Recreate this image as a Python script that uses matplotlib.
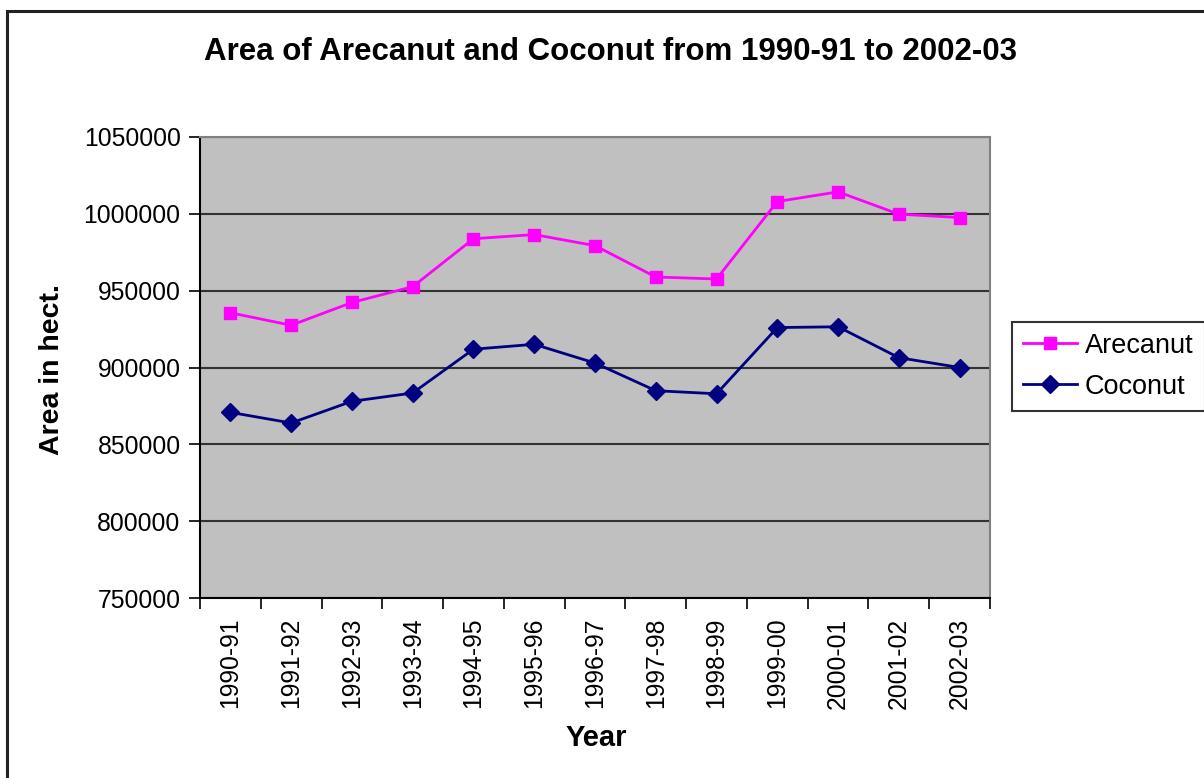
import matplotlib.pyplot as plt
import numpy as np
from matplotlib.patches import Rectangle
from matplotlib.ticker import FormatStrFormatter

plt.rcParams['font.family'] = ['Liberation Sans', 'DejaVu Sans']

# data
years = ['1990-91', '1991-92', '1992-93', '1993-94', '1994-95', '1995-96', '1996-97',
         '1997-98', '1998-99', '1999-00', '2000-01', '2001-02', '2002-03']
arecanut = [935600, 927500, 942300, 952600, 983800, 986500, 979300,
            958900, 957600, 1008000, 1014300, 999800, 997600]
coconut = [870800, 863900, 878000, 883400, 911900, 915100, 902900,
           884900, 882900, 926000, 926500, 906400, 900000]

fig = plt.figure(figsize=(12.04, 7.78), dpi=100)
fig.patch.set_facecolor('white')
# outer chart border
fig.add_artist(Rectangle((7 / 1204, -0.1), 1.2, 1 - 11 / 778 + 0.1, transform=fig.transFigure,
                         fill=False, edgecolor='#222222', linewidth=2.2))

ax = fig.add_axes([200 / 1204, 1 - 598 / 778, 790 / 1204, 461 / 778])
ax.set_facecolor('#c0c0c0')

x = np.arange(len(years))
ax.plot(x, arecanut, color='#ff00ff', marker='s', markersize=9, linewidth=2, label='Arecanut')
ax.plot(x, coconut, color='#000080', marker='D', markersize=9, linewidth=2, label='Coconut')

ax.set_xlim(-0.5, len(years) - 0.5)
ax.set_ylim(750000, 1050000)
ax.set_yticks(np.arange(750000, 1050001, 50000))
ax.yaxis.set_major_formatter(FormatStrFormatter('%d'))
ax.yaxis.grid(True, color='#333333', linewidth=1.5)
ax.set_axisbelow(True)

# ticks between categories, labels centred
ax.set_xticks(np.arange(-0.5, len(years), 1))
ax.set_xticklabels([])
ax.set_xticks(x, minor=True)
ax.set_xticklabels(years, minor=True, rotation=90, fontsize=17.8)
ax.tick_params(axis='x', which='minor', length=0, pad=14)
ax.tick_params(axis='x', which='major', length=8, width=1.2, direction='out')
ax.tick_params(axis='y', labelsize=17.8, length=8, width=1.2, pad=6)

for s in ['top', 'right']:
    ax.spines[s].set_color('#808080')
    ax.spines[s].set_linewidth(1.5)
for s in ['left', 'bottom']:
    ax.spines[s].set_color('black')
    ax.spines[s].set_linewidth(1.5)

fig.text(611 / 1204, 1 - 52 / 778, 'Area of Arecanut and Coconut from 1990-91 to 2002-03',
         ha='center', va='center', fontsize=22.5, fontweight='bold')
fig.text(52 / 1204, 1 - 370 / 778, 'Area in hect.', ha='center', va='center',
         rotation=90, fontsize=20.5, fontweight='bold')
fig.text(596 / 1204, 1 - 738 / 778, 'Year', ha='center', va='center',
         fontsize=21, fontweight='bold')

leg = fig.legend(loc='upper left', bbox_to_anchor=(1012 / 1204, 1 - 322 / 778),
                 fontsize=19.5, frameon=True, fancybox=False, edgecolor='black',
                 handlelength=2.0, handletextpad=0.3, borderpad=0.4, labelspacing=0.55,
                 borderaxespad=0)
leg.get_frame().set_linewidth(1.5)

plt.savefig('out.png', dpi=100)
